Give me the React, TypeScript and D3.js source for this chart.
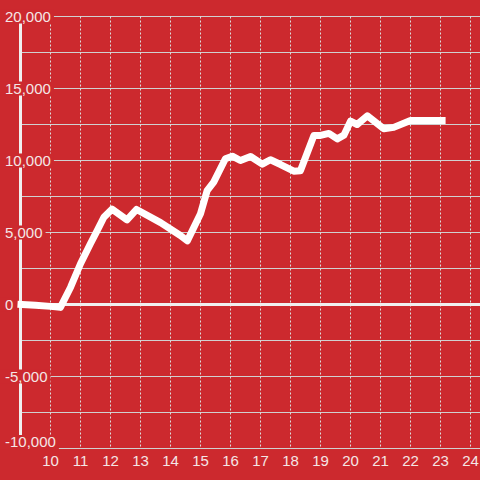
import React, { useEffect, useRef } from "react";
import * as d3 from "d3";

const hours = [8.9, 9.5, 10.0, 10.33, 10.67, 11.0, 11.33, 11.56, 11.78, 12.05, 12.55, 12.87, 13.67, 14.33, 14.56, 15.0, 15.22, 15.44, 15.83, 16.06, 16.33, 16.67, 17.06, 17.33, 17.67, 18.11, 18.33, 18.78, 19.0, 19.28, 19.56, 19.78, 20.0, 20.22, 20.56, 21.11, 21.44, 22.0, 23.17];
const values = [20, -60, -130, -200, 1200, 2830, 4220, 5140, 6060, 6620, 5880, 6600, 5690, 4790, 4420, 6300, 7900, 8500, 10120, 10300, 10000, 10280, 9750, 10050, 9720, 9260, 9280, 11740, 11740, 11880, 11500, 11760, 12730, 12500, 13100, 12200, 12300, 12780, 12780];
const xTicks = [10, 11, 12, 13, 14, 15, 16, 17, 18, 19, 20, 21, 22, 23, 24];
const yLabelTicks = [20000, 15000, 10000, 5000, 0, -5000, -10000];
const yGridTicks = [20000, 17500, 15000, 12500, 10000, 7500, 5000, 2500, -2500, -5000, -7500, -10000];

const W = 480;
const H = 480;
const BG = "#CC292E";

export default function App() {
  const ref = useRef<SVGSVGElement>(null);
  useEffect(() => {
    const svg = d3.select(ref.current);
    svg.selectAll("*").remove();
    const x = d3.scaleLinear().domain([9, 24]).range([20.5, 470.5]);
    const y = d3.scaleLinear().domain([-10000, 20000]).range([448.5, 16.5]);

    svg.append("rect").attr("width", W).attr("height", H).attr("fill", BG);

    // horizontal grid
    svg.append("g").selectAll("line").data(yGridTicks).join("line")
      .attr("x1", 22).attr("x2", W)
      .attr("y1", (d) => y(d)).attr("y2", (d) => y(d))
      .attr("stroke", "#d0d0d0").attr("stroke-width", 1);

    // vertical dashed grid
    svg.append("g").selectAll("line").data(xTicks).join("line")
      .attr("x1", (d) => x(d)).attr("x2", (d) => x(d))
      .attr("y1", y(20000)).attr("y2", y(-10000))
      .attr("stroke", "#dcdcdc").attr("stroke-width", 1)
      .attr("stroke-dasharray", "2,2");

    // zero line
    svg.append("line")
      .attr("x1", 22).attr("x2", W)
      .attr("y1", y(0)).attr("y2", y(0))
      .attr("stroke", "#f0f0f0").attr("stroke-width", 3);

    // y axis bar
    svg.append("line")
      .attr("x1", x(9)).attr("x2", x(9))
      .attr("y1", y(20000)).attr("y2", y(-10000))
      .attr("stroke", "#f0f0f0").attr("stroke-width", 3);

    // data line
    const line = d3.line<number>()
      .x((_, i) => x(hours[i]))
      .y((d) => y(d))
      .curve(d3.curveLinear);
    svg.append("path")
      .datum(values)
      .attr("d", line)
      .attr("fill", "none")
      .attr("stroke", "#ffffff")
      .attr("stroke-width", 7)
      .attr("stroke-linejoin", "round")
      .attr("stroke-linecap", "butt");

    // y labels with background
    const fmt = d3.format(",");
    const lg = svg.append("g");
    yLabelTicks.forEach((t) => {
      const cy = Math.min(y(t), 442);
      const g = lg.append("g");
      const rect = g.append("rect").attr("fill", BG);
      const txt = g.append("text")
        .attr("x", 5)
        .attr("y", cy)
        .attr("dy", "0.35em")
        .attr("font-family", "Liberation Sans, Arial, sans-serif")
        .attr("font-size", 15)
        .attr("fill", "#f4e6e6")
        .text(fmt(t).replace("−", "-"));
      const bb = (txt.node() as SVGTextElement).getBBox();
      const top = cy - 7;
      const bottom = Math.max(cy + 7, y(t) + 1);
      rect.attr("x", 0).attr("y", top).attr("width", bb.x + bb.width + 3).attr("height", bottom - top);
    });

    // x labels
    svg.append("g").selectAll("text").data(xTicks).join("text")
      .attr("x", (d) => x(d))
      .attr("y", 466)
      .attr("text-anchor", "middle")
      .attr("font-family", "Liberation Sans, Arial, sans-serif")
      .attr("font-size", 15)
      .attr("fill", "#f4e6e6")
      .text((d) => String(d));
  }, []);
  return (
    <svg ref={ref} width={W} height={H} style={{ position: "absolute", left: 0, top: 0, display: "block" }} />
  );
}
